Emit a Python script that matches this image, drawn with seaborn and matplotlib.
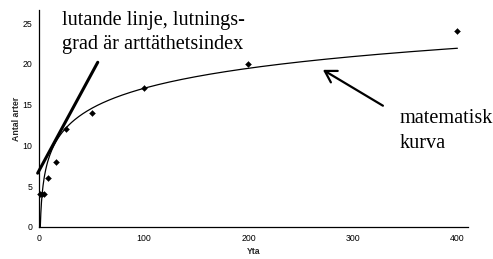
import numpy as np
import pandas as pd
import matplotlib
matplotlib.use("Agg")
import matplotlib.pyplot as plt
import seaborn as sns

# Data
yta = [1, 2, 4, 8, 16, 25, 50, 100, 200, 400]
antal_arter = [4, 4, 4, 6, 8, 12, 14, 17, 20, 24]
x_ticks = [0, 100, 200, 300, 400]
y_ticks = [0, 5, 10, 15, 20, 25]
tangent_x = [-1.7, 55.8]
tangent_y = [6.6, 20.2]
arrow_tail = (331, 14.7)
arrow_head = (269, 19.45)

sns.set_theme(style="white")
plt.rcParams['font.family'] = ['Liberation Sans', 'DejaVu Sans']

fig = plt.figure(figsize=(4.93, 2.59), dpi=100)
ax = fig.add_axes([0.080, 0.1236, 0.869, 0.8374])

df = pd.DataFrame({"Yta": yta, "Antal arter": antal_arter})

# logarithmic fit (the "matematisk kurva")
b, a = np.polyfit(np.log(df["Yta"]), df["Antal arter"], 1)
x0 = np.exp(-a / b)
xs = np.concatenate([np.linspace(x0, 5, 200), np.linspace(5, 400, 400)])
curve = pd.DataFrame({"x": xs, "y": a + b * np.log(xs)})
sns.lineplot(data=curve, x="x", y="y", ax=ax, color="black", lw=0.9,
             sort=False, estimator=None)

sns.lineplot(x=tangent_x, y=tangent_y, ax=ax, color="black", lw=2.2,
             estimator=None, sort=False)
for l in ax.lines:
    l.set_clip_on(False)

sns.scatterplot(data=df, x="Yta", y="Antal arter", ax=ax, color="black",
                marker="D", s=9, edgecolor="black", linewidth=0.3, clip_on=False,
                zorder=5)

ax.set_xlim(0, 410)
ax.set_ylim(0, 26.6)
ax.set_xticks(x_ticks)
ax.set_yticks(y_ticks)
ax.tick_params(axis="both", direction="inout", length=6, width=0.8,
               labelsize=6.3, colors="black", pad=2)
for s in ["top", "right"]:
    ax.spines[s].set_visible(False)
for s in ["left", "bottom"]:
    ax.spines[s].set_color("black")
    ax.spines[s].set_linewidth(0.9)

ax.set_xlabel("Yta", fontsize=6.3, fontweight="bold", labelpad=3)
ax.set_ylabel("Antal arter", fontsize=6.3, fontweight="bold", labelpad=1.5)

serif = ['Liberation Serif', 'DejaVu Serif']
kw = dict(transform=ax.transAxes, fontsize=14.6, family=serif,
          va="baseline", ha="left", color="black")
ax.text(0.0518, 0.931, "lutande linje, lutnings-", **kw)
ax.text(0.0518, 0.819, "grad är arttäthetsindex", **kw)
ax.text(0.8415, 0.478, "matematisk", **kw)
ax.text(0.8415, 0.366, "kurva", **kw)

ax.annotate("", xy=arrow_head, xytext=arrow_tail,
            arrowprops=dict(arrowstyle="->,head_length=0.5,head_width=0.3",
                            color="black", lw=1.6, mutation_scale=16))

fig.savefig("out.png", dpi=100)
